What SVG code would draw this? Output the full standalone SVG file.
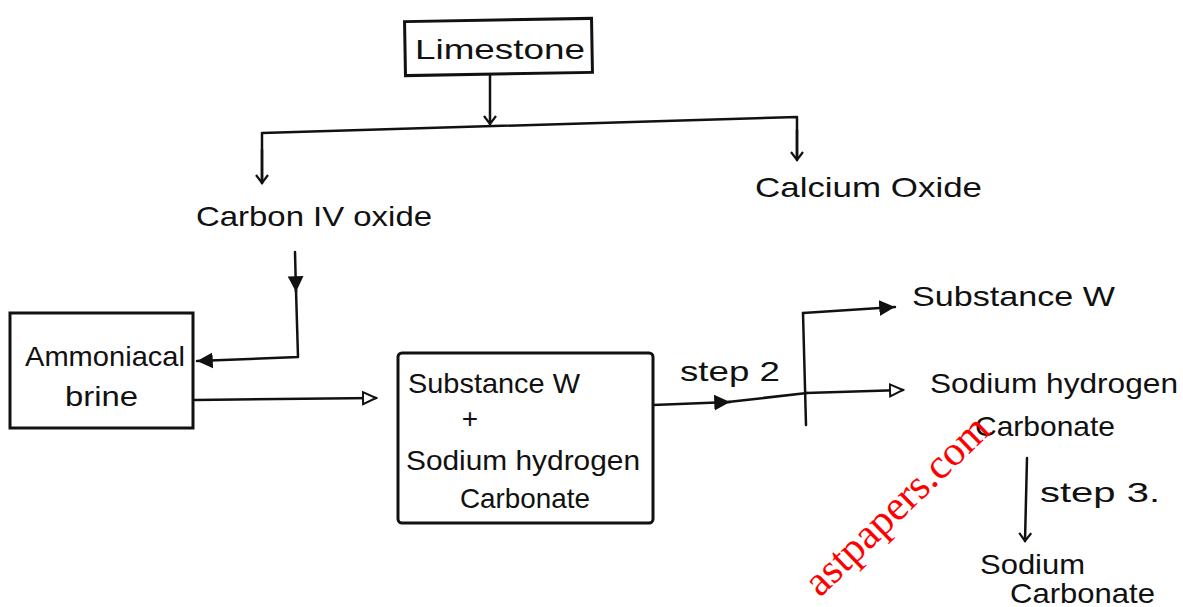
<svg xmlns="http://www.w3.org/2000/svg" width="1183" height="607" viewBox="0 0 1183 607">
<defs>
<style>
.t{font-family:"Liberation Sans",Arial,sans-serif;font-size:28px;fill:#111}
.ln{fill:none;stroke:#111;stroke-width:2.5;stroke-linecap:round;stroke-linejoin:round}
.box{fill:#fff;stroke:#111;stroke-width:3}
.wm{font-family:"Liberation Serif","Times New Roman",serif;font-size:42px;fill:#ff0000}
</style>
<marker id="v" viewBox="0 0 14 14" refX="12" refY="7" markerWidth="14" markerHeight="14" markerUnits="userSpaceOnUse" orient="auto">
<path d="M4,1 L12,7 L4,13" fill="none" stroke="#111" stroke-width="2.2"/>
</marker>
<marker id="fill" viewBox="0 0 16 16" refX="14" refY="8" markerWidth="18" markerHeight="18" markerUnits="userSpaceOnUse" orient="auto">
<path d="M0,1 L14,8 L0,15 Z" fill="#111"/>
</marker>
<marker id="open" viewBox="0 0 16 16" refX="14" refY="8" markerWidth="16" markerHeight="16" markerUnits="userSpaceOnUse" orient="auto">
<path d="M1,2 L14,8 L1,14 Z" fill="#fff" stroke="#111" stroke-width="2"/>
</marker>
</defs>
<rect width="1183" height="607" fill="#fff"/>

<g id="connectors">
<path class="ln" d="M490,75 L490,124" marker-end="url(#v)"/>
<path class="ln" d="M262,183 L262,133 L797,117 L797,158"/>
<path class="ln" d="M262,150 L262,183" marker-end="url(#v)"/>
<path class="ln" d="M797,130 L797,160" marker-end="url(#v)"/>
<path class="ln" d="M295,252 L296,292" marker-end="url(#fill)"/>
<path class="ln" d="M296,290 L298,357 L197,361" marker-end="url(#fill)"/>
<path class="ln" d="M195,400 L376,398" marker-end="url(#open)"/>
<path class="ln" d="M653,405 L730,402" marker-end="url(#fill)"/>
<path class="ln" d="M728,402 L807,393"/>
<path class="ln" d="M803,313 L806,425"/>
<path class="ln" d="M803,313 L895,307" marker-end="url(#fill)"/>
<path class="ln" d="M806,393 L903,390" marker-end="url(#open)"/>
<path class="ln" d="M1027,458 L1025,541" marker-end="url(#v)"/>
</g>

<g id="limestone">
<rect class="box" x="405" y="20" width="187" height="54" transform="rotate(-1 498 47)"/>
<text class="t" x="415" y="59" textLength="170" lengthAdjust="spacingAndGlyphs">Limestone</text>
</g>
<g id="carbon-iv-oxide">
<text class="t" x="196" y="226" textLength="236" lengthAdjust="spacingAndGlyphs">Carbon IV oxide</text>
</g>
<g id="calcium-oxide">
<text class="t" x="755" y="197" textLength="227" lengthAdjust="spacingAndGlyphs">Calcium Oxide</text>
</g>
<g id="ammoniacal-brine">
<rect class="box" x="10" y="313" width="183" height="115"/>
<text class="t" x="25" y="366" textLength="160" lengthAdjust="spacingAndGlyphs">Ammoniacal</text>
<text class="t" x="65" y="406" textLength="73" lengthAdjust="spacingAndGlyphs">brine</text>
</g>
<g id="mixture">
<rect class="box" x="398" y="353" width="255" height="170" rx="4"/>
<text class="t" x="408" y="393" textLength="172" lengthAdjust="spacingAndGlyphs">Substance W</text>
<text class="t" x="470" y="428" text-anchor="middle">+</text>
<text class="t" x="406" y="470" textLength="234" lengthAdjust="spacingAndGlyphs">Sodium hydrogen</text>
<text class="t" x="460" y="508" textLength="130" lengthAdjust="spacingAndGlyphs">Carbonate</text>
</g>
<g id="step2">
<text class="t" x="680" y="381" textLength="100" lengthAdjust="spacingAndGlyphs">step 2</text>
</g>
<g id="substance-w">
<text class="t" x="912" y="306" textLength="203" lengthAdjust="spacingAndGlyphs">Substance  W</text>
</g>
<g id="sodium-hydrogen-carbonate">
<text class="t" x="930" y="393" textLength="248" lengthAdjust="spacingAndGlyphs">Sodium hydrogen</text>
<text class="t" x="975" y="436" textLength="140" lengthAdjust="spacingAndGlyphs">Carbonate</text>
</g>
<g id="step3">
<text class="t" x="1040" y="502" textLength="120" lengthAdjust="spacingAndGlyphs">step 3.</text>
</g>
<g id="sodium-carbonate">
<text class="t" x="980" y="574" textLength="105" lengthAdjust="spacingAndGlyphs">Sodium</text>
<text class="t" x="1010" y="603" textLength="145" lengthAdjust="spacingAndGlyphs">Carbonate</text>
</g>

<text class="wm" x="0" y="0" text-anchor="end" transform="translate(992,432) rotate(-44)">astpapers.com</text>
</svg>
